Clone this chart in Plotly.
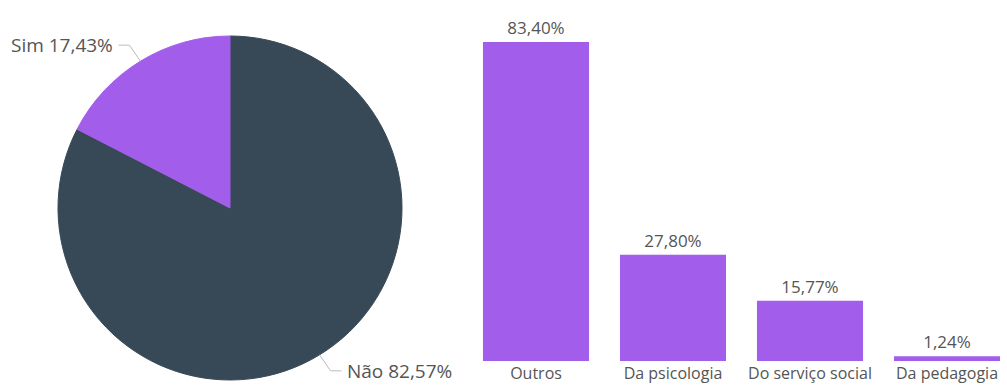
import math
import plotly.graph_objects as go

# Pie: share of respondents (drawn clockwise from 12 o'clock)
pie_labels = ["Não", "Sim"]
pie_values = [82.57, 17.43]
pie_colors = ["#374856", "#A25DEA"]

# Bars: origin of the support received
bar_categories = ["Outros", "Da psicologia", "Do serviço social", "Da pedagogia"]
bar_values = [83.40, 27.80, 15.77, 1.24]

W, H = 1007, 385
FONT = "Open Sans"
TXT = "#555555"

# pie placement in pixels
pie_cx, pie_cy, pie_r = 230, 208, 172

fig = go.Figure()

fig.add_trace(go.Pie(
    labels=pie_labels,
    values=pie_values,
    # stroke each slice in its own colour so no seam shows between them
    marker=dict(colors=pie_colors, line=dict(width=1, color=pie_colors)),
    sort=False,
    direction="clockwise",
    rotation=0,
    textinfo="none",
    hoverinfo="label+percent",
    showlegend=False,
    domain=dict(x=[(pie_cx - pie_r) / W, (pie_cx + pie_r) / W],
                y=[1 - (pie_cy + pie_r) / H, 1 - (pie_cy - pie_r) / H]),
))

fig.add_trace(go.Bar(
    x=bar_categories,
    y=bar_values,
    marker=dict(color="#A25DEA", line=dict(width=0)),
    texttemplate="%{y:.2f}%",
    textposition="outside",
    textfont=dict(family=FONT, size=17, color=TXT),
    cliponaxis=False,
    showlegend=False,
))

# outside labels for the pie with elbow leader lines
total = sum(pie_values)
start = 0.0
shapes = []
annotations = []
for lab, val in zip(pie_labels, pie_values):
    frac = val / total
    mid = (start + frac / 2) * 2 * math.pi  # clockwise from 12 o'clock
    start += frac
    px = pie_cx + pie_r * math.sin(mid)
    py = pie_cy - pie_r * math.cos(mid)
    side = 1 if math.sin(mid) > 0 else -1   # label on right or left
    up = -1 if math.cos(mid) > 0 else 1
    ex, ey = px + side * 11, py + up * 16
    tx = ex + side * 11
    shapes.append(dict(
        type="path", xref="paper", yref="paper",
        path=f"M {px / W} {1 - py / H} L {ex / W} {1 - ey / H} L {tx / W} {1 - ey / H}",
        line=dict(color="#BBBBBB", width=1),
    ))
    pct = f"{val:.2f}".replace(".", ",")
    annotations.append(dict(
        xref="paper", yref="paper",
        x=(tx + side * 3) / W, y=1 - ey / H,
        xanchor="right" if side < 0 else "left", yanchor="middle",
        text=f"{lab} {pct}%", showarrow=False,
        font=dict(family=FONT, size=19, color=TXT),
    ))

bar_left, bar_right = 480, 1003
band = 137
first_center = 536
fig.update_layout(
    width=W, height=H,
    margin=dict(l=0, r=0, t=0, b=0),
    paper_bgcolor="white", plot_bgcolor="white",
    separators=",.",
    bargap=0.226,
    font=dict(family=FONT, color=TXT),
    shapes=shapes,
    annotations=annotations,
    xaxis=dict(
        domain=[bar_left / W, bar_right / W],
        range=[(bar_left - first_center) / band, (bar_right - first_center) / band],
        showgrid=False, zeroline=False, showline=False, ticks="",
        tickfont=dict(family=FONT, size=16, color=TXT),
        ticklabelstandoff=1,
        automargin=False,
    ),
    yaxis=dict(
        domain=[1 - 361 / H, 1 - 10 / H],
        range=[0, 351 / 3.825],
        visible=False,
        automargin=False,
    ),
)

fig.write_html("out.html")
